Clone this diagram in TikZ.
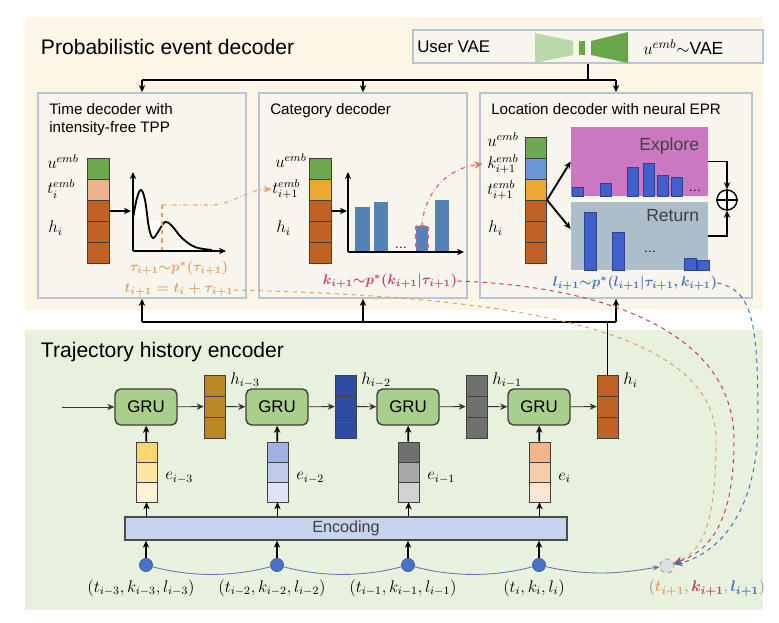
\documentclass[tikz,border=0pt]{standalone}
\usepackage{amsmath}
\usepackage{fontspec}
\setmainfont{Liberation Sans}
\usetikzlibrary{positioning, arrows.meta, fit}
\definecolor{paneltop}{RGB}{252,246,230}
\definecolor{panelbot}{RGB}{232,240,222}
\definecolor{boxline}{RGB}{184,196,216}
\definecolor{boxfill}{RGB}{248,245,236}
\definecolor{embgreen}{RGB}{110,168,80}
\definecolor{embsalmon}{RGB}{236,178,142}
\definecolor{embyellow}{RGB}{236,168,50}
\definecolor{embblue}{RGB}{104,150,214}
\definecolor{hidbrown}{RGB}{192,98,38}
\definecolor{barblue}{RGB}{84,130,180}
\definecolor{eprblue}{RGB}{64,96,204}
\definecolor{explorepink}{RGB}{204,120,192}
\definecolor{returngray}{RGB}{172,190,202}
\definecolor{timeorange}{RGB}{226,160,100}
\definecolor{catred}{RGB}{194,62,100}
\definecolor{locblue}{RGB}{62,112,196}
\definecolor{grugreen}{RGB}{170,206,140}
\definecolor{encblue}{RGB}{198,212,238}
\definecolor{dotblue}{RGB}{74,114,200}
\definecolor{vaelight}{RGB}{184,218,168}
\definecolor{vaedark}{RGB}{104,166,76}
\definecolor{hthree}{RGB}{186,136,34}
\definecolor{htwo}{RGB}{46,76,162}
\definecolor{hone}{RGB}{112,112,112}
\definecolor{eya}{RGB}{248,214,112}
\definecolor{eyb}{RGB}{251,228,164}
\definecolor{eyc}{RGB}{253,243,214}
\definecolor{eba}{RGB}{160,176,226}
\definecolor{ebb}{RGB}{192,203,236}
\definecolor{ebc}{RGB}{222,228,245}
\definecolor{ega}{RGB}{112,112,112}
\definecolor{egb}{RGB}{168,168,168}
\definecolor{egc}{RGB}{210,210,210}
\definecolor{eoa}{RGB}{242,180,138}
\definecolor{eob}{RGB}{247,204,170}
\definecolor{eoc}{RGB}{251,230,214}

\begin{document}
\begin{tikzpicture}[x=0.025cm, y=-0.025cm,
    panel/.style={inner sep=0pt, draw=none},
    dbox/.style={draw=boxline, fill=boxfill, line width=1.2pt, inner sep=0pt},
    cell/.style={draw=black!75, line width=0.6pt},
    hd/.style={font=\fontsize{15}{18}\selectfont, anchor=west},
    ttl/.style={font=\fontsize{10.8}{13}\selectfont, anchor=north west, align=left, inner sep=0pt},
    lab/.style={font=\fontsize{11.5}{13}\selectfont, anchor=west, inner sep=0pt},
    frm/.style={font=\fontsize{10.2}{12}\selectfont, inner sep=0pt},
    gru/.style={draw=black!75, fill=grugreen, rounded corners=4pt, line width=1pt,
                minimum width=1.55cm, minimum height=0.9cm, font=\fontsize{12}{14}\selectfont},
    pt/.style={circle, fill=dotblue, draw=dotblue!70!black, minimum size=0.33cm, inner sep=0pt},
    bus/.style={line width=1.3pt, black},
    arr/.style={-{Stealth[length=5pt, width=4.5pt]}, line width=1.3pt, black},
    tarr/.style={-{Stealth[length=5pt, width=4.5pt]}, line width=0.6pt, black!80},
    bar/.style={fill=barblue},
    ebar/.style={fill=eprblue, draw=eprblue!70!black, line width=0.5pt},
    seq/.style={draw=dotblue!60!gray, line width=0.6pt},
    fb/.style={dashed, line width=0.7pt, -{Stealth[length=6pt, width=5pt]}},
  ]
  \useasboundingbox (0,0) rectangle (779,623);
  % panels
  \node[panel, fill=paneltop, fit={(25,17) (763,310)}] (dec) {};
  \node[panel, fill=panelbot, fit={(25,330) (763,610)}] (enc) {};
  \node[hd] (dechd) at (36,47) {Probabilistic event decoder};
  \node[hd] (enchd) at (36,352) {Trajectory history encoder};

  % user VAE
  \node[dbox, fit={(413,30) (763,63)}] (vae) {};
  \node[lab, font=\fontsize{12}{14}\selectfont] (vaetxt) at (417,47) {User VAE};
  \fill[vaelight] (535,33) -- (573,41) -- (573,55) -- (535,63) -- cycle;
  \fill[vaedark] (579,41) rectangle (585,55);
  \fill[vaedark] (591,41) -- (628,32) -- (628,63) -- (591,55) -- cycle;
  \node[lab, font=\fontsize{12.5}{14}\selectfont] (vaeout) at (643,47) {$u^{emb}{\sim}$VAE};

  % decoder boxes
  \node[dbox, fit={(38,93) (246,298)}] (tbox) {};
  \node[dbox, fit={(259,93) (467,298)}] (cbox) {};
  \node[dbox, fit={(480,93) (752,298)}] (lbox) {};
  \node[ttl] (ttitle) at (49,103) {Time decoder with\\intensity-free TPP};
  \node[ttl] (ctitle) at (270,103) {Category decoder};
  \node[ttl] (ltitle) at (491,103) {Location decoder with neural EPR};

  \coordinate (tbus) at (0,80);
  \coordinate (bbus) at (0,322);
  \draw[bus] (vae.south) -- (vae.south |- tbus);
  \draw[bus] (tbox.north |- tbus) -- (lbox.north |- tbus);
  \foreach \b in {tbox,cbox,lbox} {
    \draw[arr] (\b.north |- tbus) -- (\b.north);
    \draw[arr] (\b.south |- bbus) -- (\b.south);
  }
  \draw[bus] (tbox.south |- bbus) -- (lbox.south |- bbus);

  % time decoder
  \foreach \c [count=\n from 0] in {embgreen,embsalmon,hidbrown,hidbrown,hidbrown}
    \draw[cell, fill=\c] (87,158+21*\n) rectangle +(22,21);
  \node[fit={(87,158) (109,263)}, inner sep=0pt] (tstack) {};
  \node[lab] (tu) at (47,162) {$u^{emb}$};
  \node[lab] (tt) at (47,189) {$t_i^{emb}$};
  \node[lab] (th) at (48,228) {$h_i$};
  \coordinate (tin) at (131,211);
  \draw[arr] (tstack.east |- tin) -- (tin);
  \fill[white] plot[smooth, tension=0.6] coordinates {(133,218) (137,198) (141,190) (145,200) (149,228) (153,238) (158,232) (165,222)} -- cycle;
  \draw[line width=1.3pt] plot[smooth, tension=0.6] coordinates {(133,218) (137,198) (141,190) (145,200) (149,228) (153,238) (158,232) (165,222) (172,226) (182,238) (195,247) (212,250)};
  \coordinate (tsamp) at (162,205);
  \draw[timeorange, dashed, line width=0.8pt] (162,251) -- (tsamp);
  \draw[arr] (133,251) -- (133,172);
  \draw[arr] (133,251) -- (226,251);
  \node[frm, text=timeorange] (tf1) at (179,268) {$\boldsymbol{\tau_{i+1}{\sim}p^*(\tau_{i+1})}$};
  \node[frm, text=timeorange] (tf2) at (179,290) {$\boldsymbol{t_{i+1}=t_i+\tau_{i+1}}$};

  % category decoder
  \foreach \c [count=\n from 0] in {embgreen,embyellow,hidbrown,hidbrown,hidbrown}
    \draw[cell, fill=\c] (309,158+21*\n) rectangle +(22,21);
  \node[fit={(309,158) (331,263)}, inner sep=0pt] (cstack) {};
  \node[lab] (cu) at (275,161) {$u^{emb}$};
  \node[lab] (ct) at (272,189) {$t_{i+1}^{emb}$};
  \node[lab] (ch) at (276,228) {$h_i$};
  \coordinate (cin) at (347,211);
  \draw[arr] (cstack.east |- cin) -- (cin);
  \fill[bar] (355,207) rectangle (370,252);
  \fill[bar] (374,202) rectangle (388,252);
  \fill[bar] (435,200) rectangle (449,252);
  \draw[bar, draw=catred!80, dashed, line width=0.8pt] (416,226) rectangle (428,252);
  \node[font=\small, anchor=base] (cdots) at (401,249) {\ldots};
  \draw[arr] (348,252) -- (348,172);
  \draw[arr] (348,252) -- (464,252);
  \node[frm, text=catred] (cf) at (390,281) {$\boldsymbol{k_{i+1}{\sim}p^*(k_{i+1}|\tau_{i+1})}$};
  \draw[timeorange!85, dash dot, line width=0.9pt, -{Stealth[length=6pt, width=5pt]}]
    (tsamp) -- (212,205) .. controls (232,205) and (245,190) .. (ct.west);

  % location decoder
  \foreach \c [count=\n from 0] in {embgreen,embblue,embyellow,hidbrown,hidbrown,hidbrown}
    \draw[cell, fill=\c] (525,137+21*\n) rectangle +(21,21);
  \node[fit={(525,137) (546,263)}, inner sep=0pt] (lstack) {};
  \node[lab] (lu) at (487,140) {$u^{emb}$};
  \node[lab] (lk) at (487,164) {$k_{i+1}^{emb}$};
  \node[lab] (lt) at (487,190) {$t_{i+1}^{emb}$};
  \node[lab] (lh) at (488,228) {$h_i$};
  \coordinate (kpick) at (422,226);
  \draw[catred!45!timeorange, dash dot, line width=0.9pt, -{Stealth[length=6pt, width=5pt]}]
    (kpick) .. controls (424,192) and (448,168) .. ([xshift=-3pt]lk.west);
  \node[panel, fill=explorepink, fit={(571,127) (708,196)}] (explore) {};
  \node[panel, fill=returngray, fit={(571,202) (708,270)}] (return) {};
  \node[font=\fontsize{12.5}{15}\selectfont, text=black!75, anchor=east] (extxt) at (704,146) {Explore};
  \node[font=\fontsize{12.5}{15}\selectfont, text=black!75, anchor=east] (rttxt) at (704,216) {Return};
  \foreach \a/\b in {572/187,600/183,627/167,643/163,657/175,671/177}
    \draw[ebar] (\a,\b) rectangle (\a+11,196);
  \foreach \a/\b in {584/212,612/232,684/258,697/260}
    \draw[ebar] (\a,\b) rectangle (\a+12,270);
  \node[font=\small, anchor=base] (edots) at (695,192) {\ldots};
  \node[font=\small, anchor=base] (rdots) at (650,253) {\ldots};
  \coordinate (lsplit) at (547,200);
  \draw[arr] (lsplit) -- (explore.west);
  \draw[arr] (lsplit) -- ([yshift=5pt]return.west);
  \node[circle, draw, fill=white, line width=1pt, minimum size=0.5cm, inner sep=0pt] (plus) at (727,200) {};
  \draw[line width=1pt] (plus.north) -- (plus.south) (plus.west) -- (plus.east);
  \draw[arr] (explore.east) -| (plus.north);
  \draw[arr] (return.east) -| (plus.south);
  \node[frm, text=locblue] (lf) at (635,283) {$\boldsymbol{l_{i+1}{\sim}p^*(l_{i+1}|\tau_{i+1},k_{i+1})}$};

  % encoder columns
  \foreach \i/\x/\hc/\ea/\eb/\ec/\s in {1/146/hthree/eya/eyb/eyc/{i-3}, 2/277/htwo/eba/ebb/ebc/{i-2},
                                      3/408/hone/ega/egb/egc/{i-1}, 4/539/hidbrown/eoa/eob/eoc/i} {
    \node[gru] (g\i) at (\x,407) {GRU};
    \foreach \c [count=\n from 0] in {\ea,\eb,\ec}
      \draw[cell, fill=\c] (\x-10,442+20*\n) rectangle +(21,20);
    \node[fit={(\x-10,442) (\x+11,502)}, inner sep=0pt] (e\i) {};
    \node[lab, font=\fontsize{12}{14}\selectfont] (el\i) at (\x+19,478) {$e_{\s}$};
    \foreach \n in {0,1,2}
      \draw[cell, fill=\hc] (\x+58,375+21*\n) rectangle +(21,21);
    \node[fit={(\x+58,375) (\x+79,438)}, inner sep=0pt] (h\i) {};
    \node[lab, font=\fontsize{12}{14}\selectfont] (hl\i) at (\x+84,380) {$h_{\s}$};
    \node[pt] (x\i) at (\x,565) {};
    \node[lab, anchor=center, font=\fontsize{12}{14}\selectfont] (xl\i) at (\x-5,588) {$(t_{\s},k_{\s},l_{\s})$};
  }
  \node[draw=black!70, fill=encblue, line width=1pt, inner sep=0pt, fit={(125,517) (567,540)}] (encd) {};
  \node[font=\fontsize{11.5}{14}\selectfont, text=black!75] (enctxt) at (encd) {Encoding};
  \coordinate (gin) at (62,407);
  \draw[tarr] (gin) -- (g1);
  \foreach \i/\j in {1/2,2/3,3/4} {
    \draw[tarr] (g\i) -- (h\i);
    \draw[tarr] (h\i) -- (g\j);
  }
  \draw[tarr] (g4) -- (h4);
  \foreach \i in {1,2,3,4} {
    \draw[arr] (e\i) -- (g\i);
    \draw[arr] (e\i.south |- encd.north) -- (e\i.south);
    \draw[arr] (x\i) -- (x\i |- encd.south);
  }
  \draw[bus] (h4.north) -- (h4.north |- bbus);

  % next event and feedback
  \node[circle, draw=gray, dashed, fill=gray!25, minimum size=0.35cm, inner sep=0pt] (tgt) at (667,566) {};
  \node[font=\fontsize{11.3}{14}\selectfont] (tgtlab) at (707,588)
    {$\color{gray}(\color{timeorange}\boldsymbol{t_{i+1}}\color{gray},\color{catred}\boldsymbol{k_{i+1}}\color{gray},\color{locblue}\boldsymbol{l_{i+1}}\color{gray})$};
  \foreach \i/\j in {1/2,2/3,3/4}
    \draw[seq] (x\i) .. controls +(45,12) and +(-45,12) .. (x\j);
  \draw[seq, -{Stealth[length=5pt]}] (x4) .. controls +(60,14) and +(-30,4) .. (tgt);
  \draw[fb, timeorange] (tf2.east) .. controls (480,296) and (716,320) .. (716,440) .. controls (716,530) and (700,552) .. (tgt);
  \draw[fb, catred] (cf.east) .. controls (600,286) and (734,330) .. (734,440) .. controls (734,530) and (705,552) .. (tgt);
  \draw[fb, locblue] (lf.east) .. controls (752,290) and (758,320) .. (758,420) .. controls (758,520) and (712,556) .. (tgt);
\end{tikzpicture}
\end{document}
